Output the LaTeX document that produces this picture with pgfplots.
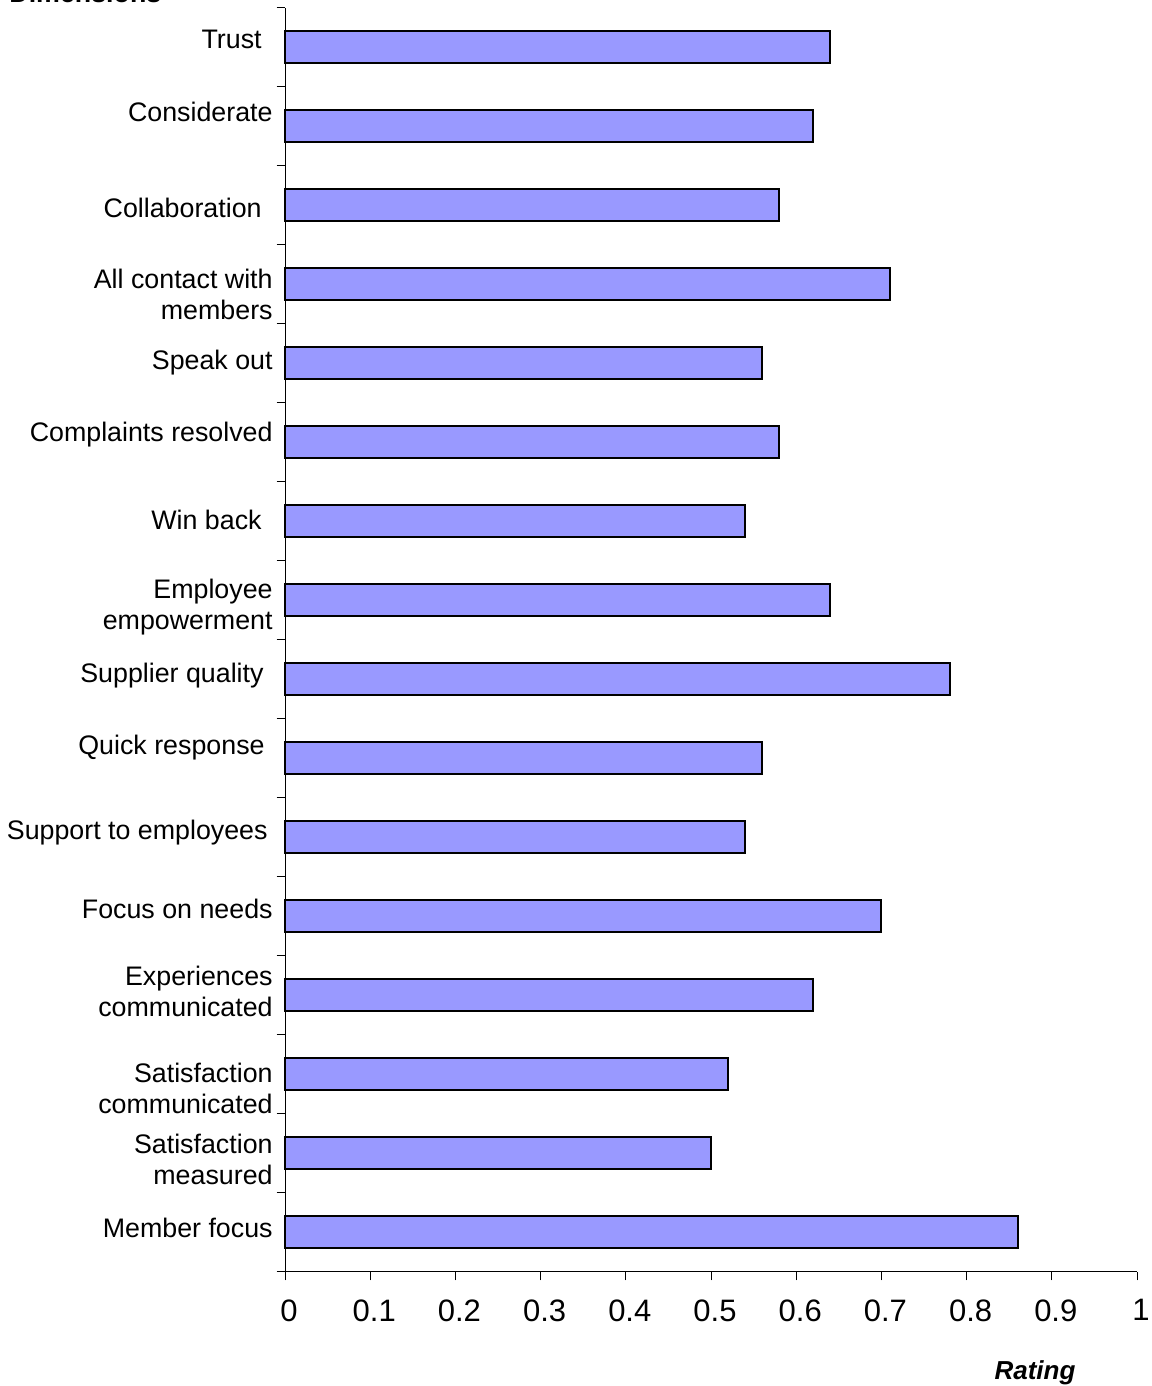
\documentclass[border=0pt]{standalone}
\usepackage{pgfplots}
\pgfplotsset{compat=1.18}
\usepackage{fontspec}
\setmainfont{Liberation Sans}
\definecolor{barblue}{HTML}{9999FF}
\begin{document}
\begin{tikzpicture}
\begin{axis}[
  at={(142.5pt,57pt)}, anchor=south west,
  scale only axis, width=426pt, height=632pt,
  xmin=0, xmax=1, ymin=-0.5, ymax=15.5,
  axis x line*=bottom, axis y line*=left,
  axis line style={-, line width=0.5pt},
  tick align=outside, major tick length=4.25pt,
  tick style={black, line width=0.5pt},
  xtick={0,0.1,0.2,0.3,0.4,0.5,0.6,0.7,0.8,0.9,1},
  xticklabels={0,0.1,0.2,0.3,0.4,0.5,0.6,0.7,0.8,0.9,1},
  xticklabel style={font=\fontsize{15.5}{18}\selectfont, yshift=-6pt, xshift=2pt},
  ytick={-0.5,0.5,...,15.5},
  yticklabels={},
  extra y ticks={15.10,14.19,12.97,11.87,11.01,10.095,9.02,7.915,7.05,6.14,5.06,4.09,3.05,1.83,0.92,0.06},
  extra y tick labels={
    {Trust\hspace*{5.5pt}},
    {Considerate},
    {Collaboration\hspace*{5.5pt}},
    {All contact with\\members},
    {Speak out},
    {Complaints resolved},
    {Win back\hspace*{5.5pt}},
    {Employee\\empowerment},
    {Supplier quality\hspace*{4.5pt}},
    {Quick response\hspace*{4pt}},
    {Support to employees\hspace*{2.5pt}},
    {Focus on needs},
    {Experiences\\communicated},
    {Satisfaction\\communicated},
    {Satisfaction\\measured},
    {Member focus}},
  extra y tick style={major tick length=0pt,
    yticklabel style={font=\fontsize{13.4}{15.5}\selectfont, align=right, anchor=east, inner sep=0pt, xshift=-6pt}},
  clip=false,
]
\addplot[xbar, bar width=16pt, fill=barblue, draw=black, line width=1pt]
  coordinates {(0.86,0) (0.50,1) (0.52,2) (0.62,3) (0.70,4) (0.54,5) (0.56,6) (0.78,7)
               (0.64,8) (0.54,9) (0.58,10) (0.56,11) (0.71,12) (0.58,13) (0.62,14) (0.64,15)};
\end{axis}
\node[anchor=base west, inner sep=0pt, font=\fontsize{13.4}{15}\selectfont\bfseries] at (4.5pt,691.5pt) {Dimensions};
\node[anchor=base, inner sep=0pt, font=\fontsize{13}{15}\selectfont\bfseries\itshape] at (517.5pt,3pt) {Rating};
\pgfresetboundingbox
\useasboundingbox (0,0) rectangle (575.5pt,693pt);
\end{tikzpicture}
\end{document}
